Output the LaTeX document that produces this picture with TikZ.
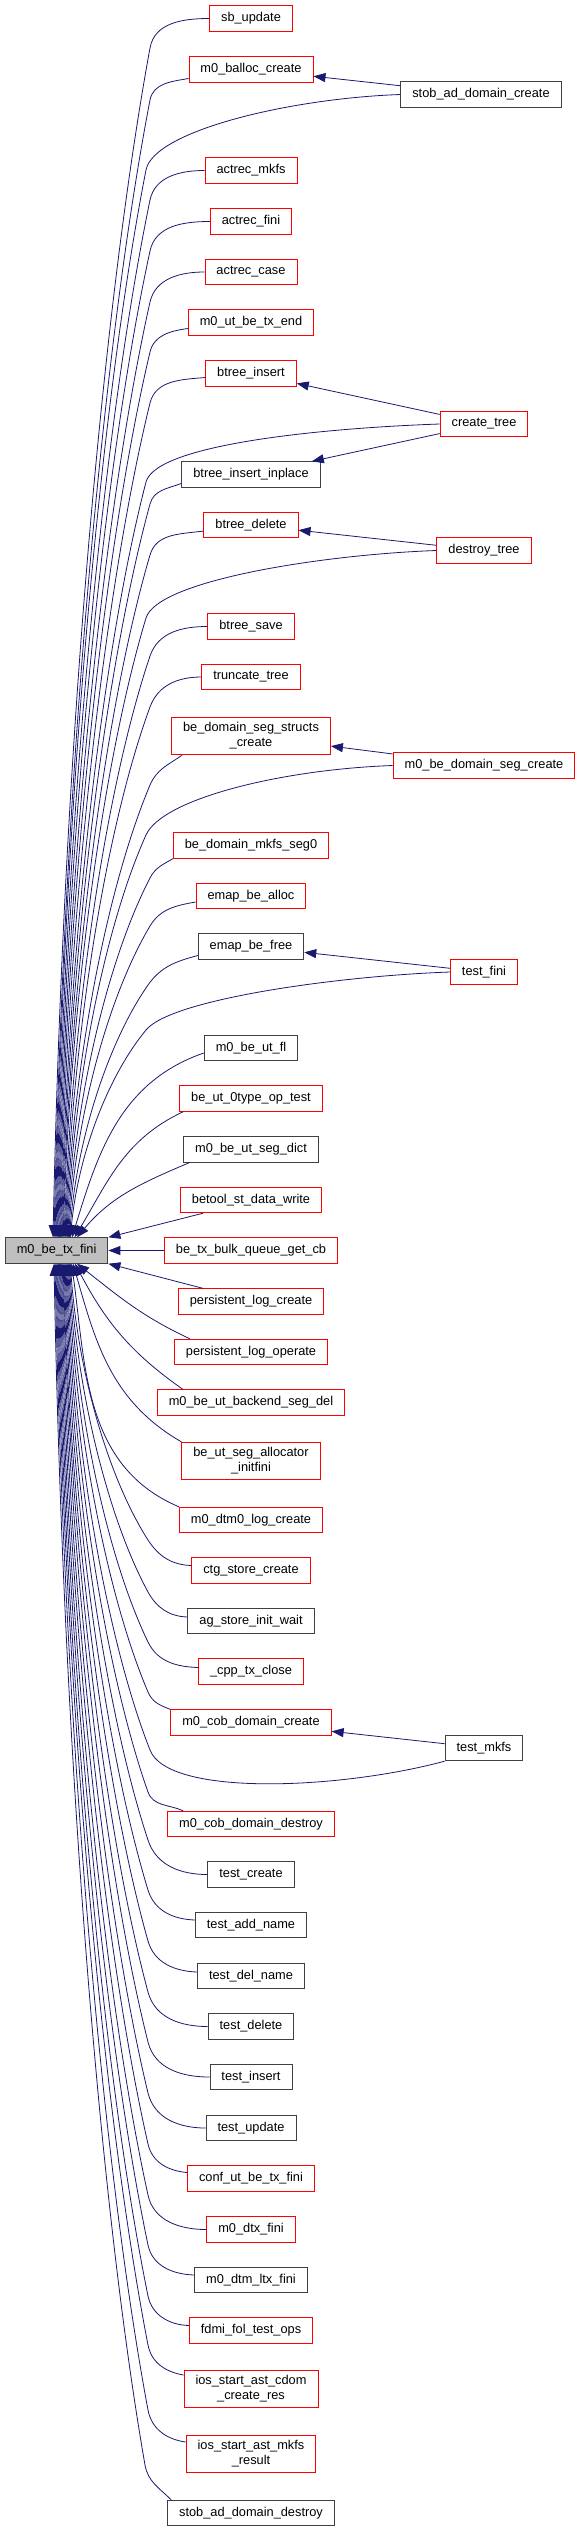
\documentclass[tikz,border=0pt]{standalone}
\usepackage{fontspec}
\setmainfont{Liberation Sans}
\usetikzlibrary{arrows.meta}
\definecolor{callblue}{HTML}{191970}
\definecolor{boxgrey}{HTML}{404040}
\definecolor{mainfill}{HTML}{BFBFBF}
\tikzset{
  fn/.style={draw=red, fill=white, line width=0.9pt, inner xsep=11.5pt, inner ysep=5.3pt,
    minimum height=25.5pt, align=center, font=\fontsize{12.8}{15}\selectfont},
  fndoc/.style={fn, draw=boxgrey},
  fnmain/.style={fn, draw=boxgrey, fill=mainfill},
  call/.style={draw=callblue, line width=0.8pt, -{Triangle[length=12pt,width=9pt]}}
}

\begin{document}
\begin{tikzpicture}[x=1pt,y=1pt]
\def\colm{251}   % middle column x
\def\colr{484}   % right column x
\useasboundingbox (0,0) rectangle (577,-2532);
%% The called function
\node[fnmain] (txfini) at (56.6,-1250.5) {m0\_be\_tx\_fini};
%% Direct callers, middle column
\node[fn] (sbupdate) at (\colm,-18.5) {sb\_update};
\node[fn] (balloccreate) at (\colm,-69.5) {m0\_balloc\_create};
\node[fn] (actrecmkfs) at (\colm,-170.5) {actrec\_mkfs};
\node[fn] (actrecfini) at (\colm,-221.5) {actrec\_fini};
\node[fn] (actreccase) at (\colm,-272) {actrec\_case};
\node[fn] (utbetxend) at (\colm,-322.5) {m0\_ut\_be\_tx\_end};
\node[fn] (btreeinsert) at (\colm,-373.5) {btree\_insert};
\node[fndoc] (inplace) at (\colm,-474.5) {btree\_insert\_inplace};
\node[fn] (btreedelete) at (\colm,-525) {btree\_delete};
\node[fn] (btreesave) at (\colm,-626.5) {btree\_save};
\node[fn] (truncatetree) at (\colm,-677) {truncate\_tree};
\node[fn] (segstructs) at (\colm,-736) {be\_domain\_seg\_structs\\\_create};
\node[fn] (mkfsseg) at (\colm,-845.5) {be\_domain\_mkfs\_seg0};
\node[fn] (emapalloc) at (\colm,-896) {emap\_be\_alloc};
\node[fndoc] (emapfree) at (\colm,-946.5) {emap\_be\_free};
\node[fndoc] (utfl) at (\colm,-1048) {m0\_be\_ut\_fl};
\node[fn] (zerotype) at (\colm,-1098.5) {be\_ut\_0type\_op\_test};
\node[fndoc] (segdict) at (\colm,-1149.5) {m0\_be\_ut\_seg\_dict};
\node[fn] (betool) at (\colm,-1200) {betool\_st\_data\_write};
\node[fn] (bulkcb) at (\colm,-1250.5) {be\_tx\_bulk\_queue\_get\_cb};
\node[fn] (plogcreate) at (\colm,-1301.5) {persistent\_log\_create};
\node[fn] (plogop) at (\colm,-1352) {persistent\_log\_operate};
\node[fn] (backenddel) at (\colm,-1402.5) {m0\_be\_ut\_backend\_seg\_del};
\node[fn] (segalloc) at (\colm,-1461) {be\_ut\_seg\_allocator\\\_initfini};
\node[fn] (dtmlog) at (\colm,-1520) {m0\_dtm0\_log\_create};
\node[fn] (ctgstore) at (\colm,-1570.5) {ctg\_store\_create};
\node[fndoc] (agstore) at (\colm,-1621) {ag\_store\_init\_wait};
\node[fn] (cpptx) at (\colm,-1671.5) {\_cpp\_tx\_close};
\node[fn] (cobcreate) at (\colm,-1722.5) {m0\_cob\_domain\_create};
\node[fn] (cobdestroy) at (\colm,-1824) {m0\_cob\_domain\_destroy};
\node[fndoc] (testcreate) at (\colm,-1874.5) {test\_create};
\node[fndoc] (testaddname) at (\colm,-1925) {test\_add\_name};
\node[fndoc] (testdelname) at (\colm,-1976) {test\_del\_name};
\node[fndoc] (testdelete) at (\colm,-2026.5) {test\_delete};
\node[fndoc] (testinsert) at (\colm,-2077) {test\_insert};
\node[fndoc] (testupdate) at (\colm,-2128) {test\_update};
\node[fn] (confut) at (\colm,-2178.5) {conf\_ut\_be\_tx\_fini};
\node[fn] (dtxfini) at (\colm,-2229.5) {m0\_dtx\_fini};
\node[fndoc] (ltxfini) at (\colm,-2280) {m0\_dtm\_ltx\_fini};
\node[fn] (fdmiops) at (\colm,-2330.5) {fdmi\_fol\_test\_ops};
\node[fn] (cdomres) at (\colm,-2389) {ios\_start\_ast\_cdom\\\_create\_res};
\node[fn] (mkfsres) at (\colm,-2454) {ios\_start\_ast\_mkfs\\\_result};
\node[fndoc] (stobdestroy) at (\colm,-2513) {stob\_ad\_domain\_destroy};
%% Second level callers, right column
\node[fndoc] (stobcreate) at (481,-94.5) {stob\_ad\_domain\_create};
\node[fn] (createtree) at (\colr,-424) {create\_tree};
\node[fn] (destroytree) at (\colr,-550.5) {destroy\_tree};
\node[fn] (domsegcreate) at (\colr,-765.5) {m0\_be\_domain\_seg\_create};
\node[fn] (testfini) at (\colr,-972) {test\_fini};
\node[fndoc] (testmkfs) at (\colr,-1748) {test\_mkfs};
%% Right column into middle column
\draw[call] (stobcreate) -- (balloccreate);
\draw[call] (createtree) -- (btreeinsert);
\draw[call] (createtree) -- (inplace);
\draw[call] (destroytree) -- (btreedelete);
\draw[call] (domsegcreate) -- (segstructs);
\draw[call] (testfini) -- (emapfree);
\draw[call] (testmkfs) -- (cobcreate);
%% Calls entering the top side (bend near x=150, then run down)
\draw[call] (sbupdate.west) to[out=180,in=80] (150,-48) .. controls +(-48,-262) and +(10,476) .. ([xshift=-3.6pt]txfini.north);
\draw[call] ([yshift=-9pt]balloccreate.west) to[out=190,in=79] (150,-100) .. controls +(-48,-250) and +(10,455) .. ([xshift=-2.6pt]txfini.north);
\draw[call] (stobcreate.west) to[out=182,in=79,out distance=110pt,in distance=40pt] (146,-170) .. controls +(-46,-235) and +(9,427) .. ([xshift=-1.6pt]txfini.north);
\draw[call] (actrecmkfs.west) to[out=180,in=78] (150,-200) .. controls +(-47,-228) and +(9,415) .. ([xshift=-0.7pt]txfini.north);
\draw[call] (actrecfini.west) to[out=180,in=78] (150,-251) .. controls +(-47,-217) and +(9,395) .. ([xshift=0.2pt]txfini.north);
\draw[call] (actreccase.west) to[out=180,in=77] (150,-302) .. controls +(-46,-206) and +(9,374) .. ([xshift=1.1pt]txfini.north);
\draw[call] ([yshift=-6pt]utbetxend.west) to[out=188,in=77] (150,-352) .. controls +(-46,-195) and +(9,354) .. ([xshift=2pt]txfini.north);
\draw[call] ([yshift=-4pt]btreeinsert.west) to[out=185,in=76] (150,-403) .. controls +(-45,-184) and +(9,334) .. ([xshift=2.9pt]txfini.north);
\draw[call] (createtree.west) to[out=182,in=75,out distance=110pt,in distance=40pt] (146,-482) .. controls +(-43,-166) and +(9,302) .. ([xshift=3.8pt]txfini.north);
\draw[call] ([yshift=-9pt]inplace.west) to[out=200,in=75] (150,-504) .. controls +(-44,-161) and +(9,294) .. ([xshift=4.7pt]txfini.north);
\draw[call] ([yshift=-6pt]btreedelete.west) to[out=188,in=74] (150,-555) .. controls +(-44,-150) and +(9,273) .. ([xshift=5.6pt]txfini.north);
\draw[call] (destroytree.west) to[out=182,in=73,out distance=110pt,in distance=40pt] (146,-618) .. controls +(-41,-136) and +(8,248) .. ([xshift=6.5pt]txfini.north);
\draw[call] (btreesave.west) to[out=180,in=71] (150,-656) .. controls +(-43,-128) and +(9,233) .. ([xshift=7.4pt]txfini.north);
\draw[call] (truncatetree.west) to[out=180,in=70] (150,-707) .. controls +(-43,-117) and +(9,212) .. ([xshift=8.3pt]txfini.north);
\draw[call] ([xshift=11pt]segstructs.south west) to[out=215,in=67] (150,-785) .. controls +(-42,-100) and +(8,181) .. ([xshift=9.2pt]txfini.north);
\draw[call] (domsegcreate.west) to[out=182,in=66,out distance=110pt,in distance=40pt] (146,-835) .. controls +(-40,-89) and +(8,161) .. ([xshift=10.1pt]txfini.north);
\draw[call] (mkfsseg.south west) to[out=210,in=63] (150,-878) .. controls +(-41,-79) and +(8,144) .. ([xshift=11pt]txfini.north);
\draw[call] ([yshift=-6pt]emapalloc.west) to[out=190,in=59] (150,-926) .. controls +(-41,-69) and +(8,125) .. ([xshift=11.9pt]txfini.north);
\draw[call] ([yshift=-9pt]emapfree.west) to[out=195,in=55] (148,-985) .. controls +(-39,-56) and +(8,101) .. ([xshift=12.8pt]txfini.north);
\draw[call] (testfini.west) to[out=182,in=51,out distance=110pt,in distance=40pt] (146,-1030) .. controls +(-38,-46) and +(8,83) .. ([xshift=13.7pt]txfini.north);
\draw[call] ([yshift=-5pt]utfl.west) to[out=199,in=73] ([xshift=15.4pt]txfini.north);
\draw[call] ([xshift=4pt]zerotype.south west) to[out=205,in=59] ([xshift=17.9pt]txfini.north);
\draw[call] ([xshift=6pt]segdict.south west) to[out=203,in=50] ([xshift=20.4pt]txfini.north);
%% Straight calls on the right side
\draw[call] ([xshift=23pt]betool.south west) -- (txfini.north east);
\draw[call] (bulkcb) -- (txfini);
\draw[call] ([xshift=25pt]plogcreate.north west) -- (txfini.south east);
%% Calls entering the bottom side
\draw[call] ([xshift=16pt]plogop.north west) to[out=155,in=-38] ([xshift=20.4pt]txfini.south);
\draw[call] ([xshift=26pt]backenddel.north west) to[out=145,in=-62] ([xshift=18.4pt]txfini.south);
\draw[call] (segalloc.north west) to[out=150,in=-74] ([xshift=16.4pt]txfini.south);
\draw[call] (dtmlog.north west) to[out=157,in=-82] ([xshift=14.9pt]txfini.south);
\draw[call] ([yshift=5pt]ctgstore.west) to[out=178,in=-57] (148,-1540) .. controls +(-39,61) and +(8,-111) .. ([xshift=13.7pt]txfini.south);
\draw[call] ([yshift=4pt]agstore.west) to[out=178,in=-61] (148,-1592) .. controls +(-39,72) and +(8,-132) .. ([xshift=12.8pt]txfini.south);
\draw[call] ([yshift=4pt]cpptx.west) to[out=178,in=-64] (148,-1642) .. controls +(-40,83) and +(8,-152) .. ([xshift=11.9pt]txfini.south);
\draw[call] (cobcreate.north west) to[out=160,in=-67] (148,-1692) .. controls +(-40,94) and +(8,-172) .. ([xshift=11pt]txfini.south);
\draw[call] (testmkfs.south west) to[out=195,in=-69,out distance=110pt,in distance=50pt] (150,-1750) .. controls +(-42,107) and +(8,-195) .. ([xshift=10.1pt]txfini.south);
\draw[call] ([xshift=16pt]cobdestroy.north west) to[out=155,in=-70] (148,-1792) .. controls +(-41,116) and +(8,-212) .. ([xshift=9.2pt]txfini.south);
\draw[call] (testcreate.west) to[out=180,in=-72] (148,-1840) .. controls +(-42,127) and +(8,-231) .. ([xshift=8.3pt]txfini.south);
\draw[call] ([yshift=5pt]testaddname.west) to[out=178,in=-73] (148,-1890) .. controls +(-42,138) and +(8,-251) .. ([xshift=7.4pt]txfini.south);
\draw[call] ([yshift=4pt]testdelname.west) to[out=178,in=-74] (148,-1941) .. controls +(-42,149) and +(8,-271) .. ([xshift=6.5pt]txfini.south);
\draw[call] (testdelete.west) to[out=180,in=-75] (148,-1992) .. controls +(-43,160) and +(9,-292) .. ([xshift=5.6pt]txfini.south);
\draw[call] (testinsert.west) to[out=180,in=-76] (148,-2042) .. controls +(-43,171) and +(9,-312) .. ([xshift=4.7pt]txfini.south);
\draw[call] (testupdate.west) to[out=180,in=-76] (148,-2093) .. controls +(-44,183) and +(9,-332) .. ([xshift=3.8pt]txfini.south);
\draw[call] ([yshift=6pt]confut.west) to[out=175,in=-77] (148,-2144) .. controls +(-44,194) and +(9,-352) .. ([xshift=2.9pt]txfini.south);
\draw[call] (dtxfini.west) to[out=180,in=-78] (148,-2195) .. controls +(-45,205) and +(9,-373) .. ([xshift=2pt]txfini.south);
\draw[call] ([yshift=5pt]ltxfini.west) to[out=178,in=-78] (148,-2245) .. controls +(-45,216) and +(9,-393) .. ([xshift=1.1pt]txfini.south);
\draw[call] ([yshift=5pt]fdmiops.west) to[out=178,in=-78] (148,-2296) .. controls +(-46,227) and +(9,-413) .. ([xshift=0.2pt]txfini.south);
\draw[call] ([yshift=14pt]cdomres.west) to[out=170,in=-79] (148,-2345) .. controls +(-46,238) and +(9,-433) .. ([xshift=-0.7pt]txfini.south);
\draw[call] ([yshift=12pt]mkfsres.west) to[out=172,in=-79] (148,-2410) .. controls +(-47,252) and +(9,-459) .. ([xshift=-1.6pt]txfini.south);
\draw[call] ([xshift=4pt]stobdestroy.north west) to[out=135,in=-80] (145,-2465) .. controls +(-46,264) and +(9,-481) .. ([xshift=-2.6pt]txfini.south);
\end{tikzpicture}
\end{document}
